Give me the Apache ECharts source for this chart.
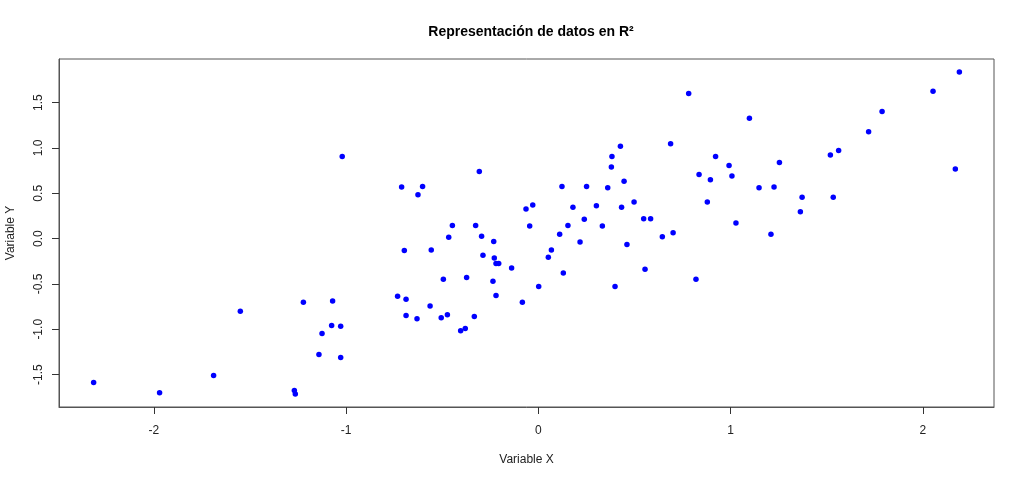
<!DOCTYPE html>
<html>
<head>
<meta charset="utf-8">
<script src="https://cdn.jsdelivr.net/npm/echarts@6/dist/echarts.min.js"></script>
<style>
  html, body { margin: 0; padding: 0; background: #fff; }
  #chart { width: 1024px; height: 481px; }
</style>
</head>
<body>
<div id="chart"></div>
<script>
// valores
const xValues = [
    -2.313, -1.970, -1.689, -1.550, -1.222, -1.070, -1.075, -1.125, -1.141, -1.269,
    -1.264, -1.020, -0.307, -0.711, -0.602, -0.626, -0.064, -0.029, -0.045, -0.447,
    -0.326, -0.466, -0.295, -0.232, -0.697, -0.557, -0.288, -0.229, -0.220, -0.206,
    -0.139, -0.494, -0.373, -0.236, 0.002, -0.732, -0.688, -0.220, -0.083, -0.563,
    -0.688, -0.631, -0.505, -0.473, -0.333, -0.404, -0.380, -1.028, -1.028, 0.782,
    1.098, 0.688, 0.427, 0.383, 0.380, 0.922, 0.992, 1.254, 0.836, 0.895,
    1.007, 1.148, 1.226, 0.123, 0.251, 0.361, 0.446, 0.498, 0.433, 0.302,
    0.180, 0.879, 0.239, 0.333, 0.154, 0.548, 0.584, 1.028, 0.111, 0.217,
    0.645, 0.701, 1.210, 0.068, 0.052, 0.461, 0.130, 0.555, 0.399, 0.820,
    2.190, 2.053, 1.788, 1.718, 1.519, 1.562, 2.169, 1.372, 1.534, 1.363
];
const yValues = [
    -1.586, -1.700, -1.509, -0.801, -0.702, -0.687, -0.959, -1.047, -1.278, -1.674,
    -1.715, 0.906, 0.741, 0.568, 0.576, 0.484, 0.326, 0.370, 0.139, 0.146,
    0.146, 0.014, 0.025, -0.033, -0.132, -0.125, -0.184, -0.213, -0.275, -0.275,
    -0.323, -0.448, -0.430, -0.470, -0.529, -0.635, -0.668, -0.628, -0.702, -0.742,
    -0.848, -0.885, -0.874, -0.841, -0.859, -1.017, -0.991, -0.966, -1.311, 1.600,
    1.328, 1.046, 1.020, 0.906, 0.789, 0.906, 0.807, 0.840, 0.708, 0.650,
    0.690, 0.562, 0.568, 0.576, 0.576, 0.562, 0.634, 0.403, 0.345, 0.363,
    0.345, 0.403, 0.213, 0.139, 0.146, 0.220, 0.220, 0.172, 0.047, -0.037,
    0.022, 0.066, 0.047, -0.125, -0.206, -0.066, -0.379, -0.338, -0.529, -0.448,
    1.839, 1.626, 1.402, 1.178, 0.921, 0.972, 0.767, 0.455, 0.455, 0.297
];
const xTicks = [-2, -1, 0, 1, 2];
const yTicks = [-1.5, -1.0, -0.5, 0.0, 0.5, 1.0, 1.5];

const fontFamily = '"Liberation Sans", Arial, sans-serif';

// rango de ejes al estilo de R (4% extra en cada lado)
function rRange(vals) {
    const lo = Math.min(...vals), hi = Math.max(...vals);
    const pad = (hi - lo) * 0.04;
    return [lo - pad, hi + pad];
}
const [xMin, xMax] = rRange(xValues);
const [yMin, yMax] = rRange(yValues);

const points = xValues.map((x, i) => [x, yValues[i]]);

const chart = echarts.init(document.getElementById('chart'));

chart.setOption({
    animation: false,
    backgroundColor: '#ffffff',
    title: {
        text: 'Representación de datos en R²',
        left: 526,
        top: 20,
        textAlign: 'center',
        textStyle: { fontFamily: fontFamily, fontSize: 14, fontWeight: 'bold', color: '#000' }
    },
    grid: {
        left: 59, right: 30, top: 59, bottom: 74,
        outerBoundsMode: 'none',
        containLabel: false,
        show: true,
        borderColor: '#555',
        borderWidth: 1,
        backgroundColor: 'transparent'
    },
    xAxis: {
        type: 'value',
        position: 'bottom',
        min: xMin,
        max: xMax,
        name: 'Variable X',
        nameLocation: 'middle',
        nameGap: 47,
        nameTextStyle: { fontFamily: fontFamily, fontSize: 12, color: '#222' },
        axisLine: { show: true, onZero: false, lineStyle: { color: '#555', width: 1 } },
        splitLine: { show: false },
        axisTick: {
            show: true, length: 7,
            customValues: xTicks,
            lineStyle: { color: '#333', width: 1 }
        },
        axisLabel: {
            customValues: xTicks,
            margin: 18,
            fontFamily: fontFamily, fontSize: 12, color: '#222',
            formatter: v => String(v)
        }
    },
    yAxis: {
        type: 'value',
        position: 'left',
        min: yMin,
        max: yMax,
        name: 'Variable Y',
        nameLocation: 'middle',
        nameRotate: 90,
        nameGap: 42,
        nameTextStyle: { fontFamily: fontFamily, fontSize: 12, color: '#222' },
        axisLine: { show: true, onZero: false, lineStyle: { color: '#555', width: 1 } },
        splitLine: { show: false },
        axisTick: {
            show: true, length: 7,
            customValues: yTicks,
            lineStyle: { color: '#333', width: 1 }
        },
        axisLabel: {
            customValues: yTicks,
            rotate: 90,
            margin: 14,
            fontFamily: fontFamily, fontSize: 12, color: '#222',
            formatter: v => v.toFixed(1)
        }
    },
    series: [{
        type: 'scatter',
        data: points,
        symbol: 'circle',
        symbolSize: 5.5,
        itemStyle: { color: '#0000ff', opacity: 1 }
    }]
});
</script>
</body>
</html>
